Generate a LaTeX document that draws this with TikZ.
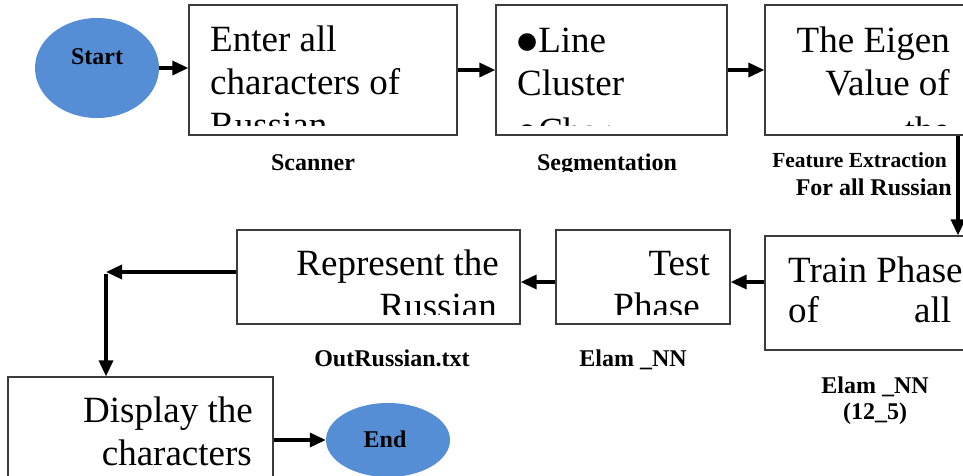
\documentclass[tikz,border=0pt]{standalone}
\usepackage{fontspec}
\setmainfont{Liberation Serif}
\newfontfamily\bulfont{DejaVu Sans}
\usetikzlibrary{arrows.meta,shapes.geometric,calc}
\definecolor{ovalblue}{RGB}{85,142,213}
\definecolor{boxline}{RGB}{60,60,60}
\newcommand{\bigbul}{\raisebox{3.5pt}{\bulfont\fontsize{23}{23}\selectfont ●}\hspace{1pt}}
\begin{document}
\begin{tikzpicture}[x=1pt,y=-1pt,
  box/.style={draw=boxline,line width=1.3pt,rectangle,inner sep=0pt},
  oval/.style={ellipse,fill=ovalblue,inner sep=0pt},
  arr/.style={line width=3.4pt,-{Triangle[length=16pt,width=14pt]}},
  big/.style={inner sep=0pt,font=\fontsize{37}{43}\selectfont},
  lab/.style={inner sep=0pt,font=\fontsize{24}{26}\selectfont\bfseries},
  labs/.style={inner sep=0pt,font=\fontsize{21.5}{24}\selectfont\bfseries},
]
\clip (0,0) rectangle (963,475);
\fill[white] (0,0) rectangle (963,475);

% ovals
\node[oval,minimum width=124pt,minimum height=100pt] (start) at (97,68) {};
\node[lab,anchor=base] (startt) at (97,64) {Start};
\node[oval,minimum width=124pt,minimum height=74pt] (end) at (388,440) {};
\node[lab,anchor=base] (endt) at (385,447) {End};

% boxes
\node[box,minimum width=268pt,minimum height=130pt] (b1) at (323,70) {};
\node[box,minimum width=231pt,minimum height=130pt] (b2) at (611.5,70) {};
\node[box,minimum width=235pt,minimum height=130pt] (b3) at (882.5,70) {};
\node[box,minimum width=235pt,minimum height=114pt] (train) at (882.5,293) {};
\node[box,minimum width=174pt,minimum height=94pt] (test) at (643,277) {};
\node[box,minimum width=283pt,minimum height=94pt] (rep) at (378.5,277) {};
\node[box,minimum width=265pt,minimum height=123pt] (disp) at (140.5,438.5) {};

% box texts
\begin{scope}
\clip (189,5) rectangle (457,125);
\node[big,anchor=base west] (b1t) at (210,51.5) {\parbox[t]{250pt}{\raggedright Enter all\\characters of\\Russian}};
\end{scope}
\begin{scope}
\clip (496,5) rectangle (727,125);
\node[big,anchor=base west] (b2t) at (517,52) {\parbox[t]{210pt}{\raggedright \bigbul Line\\Cluster\\[5pt]\bigbul Char}};
\end{scope}
\begin{scope}
\clip (765,5) rectangle (963,125);
\node[big,anchor=base east] (b3t) at (950,52) {\parbox[t]{190pt}{\raggedleft The Eigen\\Value of\\[4pt]the}};
\end{scope}
\node[big,anchor=base west] (traint) at (788,282) {\parbox[t]{200pt}{\raggedright Train Phase\\[-3pt]\makebox[163pt][s]{of\hfill all}}};
\begin{scope}
\clip (556,230) rectangle (731,314);
\node[big,anchor=base east] (testt) at (710,275) {\parbox[t]{160pt}{\raggedleft Test\\\mbox{Phase\kern10pt}}};
\end{scope}
\begin{scope}
\clip (237,230) rectangle (520,314);
\node[big,anchor=base east] (rept) at (499,275) {\parbox[t]{260pt}{\raggedleft Represent the\\\mbox{Russian\kern2pt}}};
\end{scope}
\node[big,anchor=base east] (dispt) at (253,422) {\parbox[t]{240pt}{\raggedleft Display the\\\mbox{characters\kern1pt}}};

% labels
\node[lab,anchor=base] (l1) at (313,170) {Scanner};
\begin{scope}
\clip (500,140) rectangle (720,171);
\node[lab,anchor=base] (l2) at (607,170) {Segmentation};
\end{scope}
\node[labs,anchor=base east] (l3) at (947,167) {Feature Extraction};
\node[lab,anchor=base east] (l4) at (952,195) {For all Russian};
\begin{scope}
\clip (300,330) rectangle (490,367);
\node[lab,anchor=base] (l5) at (392,366) {OutRussian.txt};
\end{scope}
\node[lab,anchor=base] (l6) at (633,366) {Elam \_NN};
\node[lab,anchor=base] (l7) at (875,393) {Elam \_NN};
\node[lab,anchor=base] (l8) at (875,419) {(12\_5)};

% connectors
\coordinate (dn) at (958,0);
\coordinate (r2) at (0,282);
\coordinate (corner) at (106,272);
\draw[arr] (start.east) -- (start.east -| b1.west);
\draw[arr] (b1.east) -- (b2.west);
\draw[arr] (b2.east) -- (b3.west);
\draw[arr] (b3.south -| dn) -- (train.north -| dn);
\draw[arr] (train.west |- r2) -- (test.east |- r2);
\draw[arr] (test.west |- r2) -- (rep.east |- r2);
\draw[arr] (rep.west |- corner) -- (corner);
\draw[arr] ([yshift=-1.7pt]corner) -- (disp.north -| corner);
\draw[arr] (disp.east |- end.west) -- (end.west);
\end{tikzpicture}
\end{document}
